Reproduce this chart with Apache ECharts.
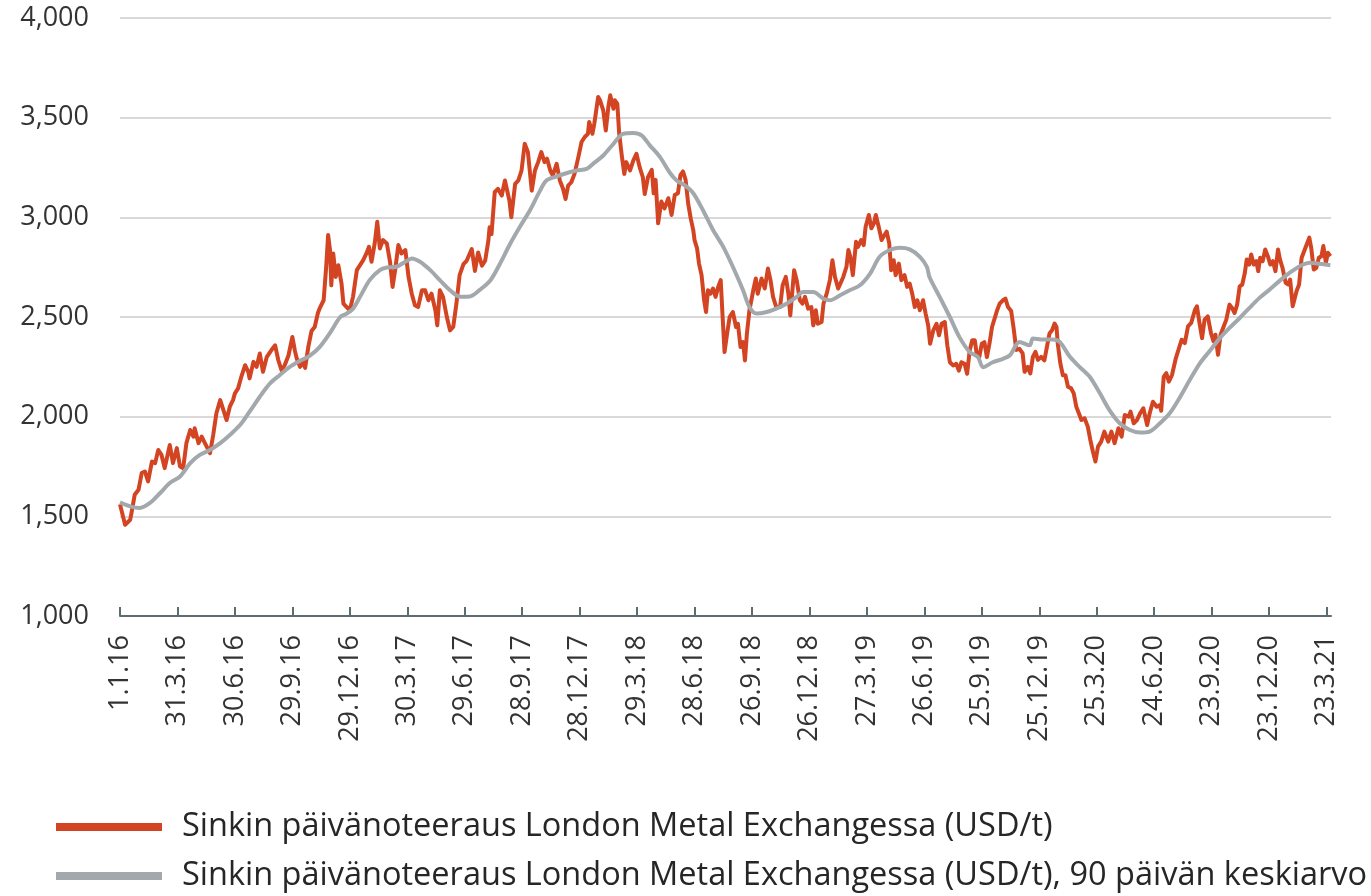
<!DOCTYPE html>
<html>
<head>
<meta charset="utf-8">
<title>Sinkin päivänoteeraus</title>
<script src="https://cdn.jsdelivr.net/npm/echarts@6.0.0/dist/echarts.min.js"></script>
<style>
  html, body { margin: 0; padding: 0; background: #fff; }
  #chart-container { width: 1371px; height: 896px; }
</style>
</head>
<body>
<div id="chart-container"></div>
<script>
// x = days since 1.1.2016, y = USD/t
const tickLabels = ['1.1.16', '31.3.16', '30.6.16', '29.9.16', '29.12.16', '30.3.17', '29.6.17',
  '28.9.17', '28.12.17', '29.3.18', '28.6.18', '26.9.18', '26.12.18', '27.3.19', '26.6.19',
  '25.9.19', '25.12.19', '25.3.20', '24.6.20', '23.9.20', '23.12.20', '23.3.21'];
const tickDays = [0, 90, 180, 270, 360, 450, 540, 630, 720, 810, 900, 990, 1080, 1170, 1260,
  1350, 1440, 1530, 1620, 1710, 1800, 1890];

const seriesNames = [
  'Sinkin päivänoteeraus London Metal Exchangessa (USD/t)',
  'Sinkin päivänoteeraus London Metal Exchangessa (USD/t), 90 päivän keskiarvo'
];

const dailyPrice = [
  [0,1560],[8,1458],[16,1483],[18,1517],[23,1608],[29,1633],[34,1717],[39,1725],[44,1675],[50,1775],
  [55,1767],[60,1833],[65,1808],[70,1742],[78,1858],[83,1767],[89,1842],[94,1750],[99,1742],[104,1867],
  [110,1933],[115,1900],[117,1942],[123,1867],[128,1900],[133,1867],[141,1817],[146,1908],[151,2017],[157,2083],
  [162,2033],[167,1983],[172,2050],[177,2083],[180,2117],[185,2142],[190,2200],[196,2258],[201,2225],[203,2192],
  [209,2275],[214,2250],[219,2317],[224,2225],[230,2300],[237,2333],[243,2358],[248,2283],[253,2233],[258,2258],
  [264,2308],[270,2400],[274,2330],[277,2290],[282,2250],[287,2270],[290,2245],[295,2350],[300,2430],[305,2450],
  [310,2520],[313,2545],[319,2584],[323,2752],[326,2911],[329,2836],[331,2659],[334,2819],[338,2701],[342,2760],
  [347,2668],[350,2567],[355,2550],[360,2534],[365,2601],[371,2735],[376,2760],[381,2785],[386,2819],[390,2852],
  [394,2777],[399,2869],[403,2978],[407,2844],[412,2886],[418,2869],[423,2777],[427,2651],[431,2735],[436,2861],
  [441,2819],[447,2836],[452,2701],[457,2617],[462,2559],[467,2550],[473,2634],[478,2634],[483,2584],[488,2617],
  [494,2534],[497,2458],[501,2634],[506,2601],[512,2500],[517,2433],[522,2450],[527,2567],[532,2710],[538,2765],
  [543,2782],[551,2841],[556,2731],[561,2824],[567,2757],[572,2782],[577,2882],[579,2950],[582,2916],[587,3126],
  [592,3143],[598,3109],[603,3185],[605,3193],[610,3084],[613,3000],[619,3168],[624,3185],[629,3235],[634,3369],
  [639,3327],[645,3134],[650,3235],[655,3277],[660,3327],[665,3277],[669,3294],[674,3235],[678,3210],[684,3268],
  [689,3185],[694,3143],[698,3092],[702,3159],[707,3176],[712,3218],[718,3302],[723,3378],[728,3403],[733,3419],
  [735,3478],[740,3419],[743,3470],[749,3604],[752,3587],[757,3537],[761,3436],[765,3554],[768,3612],[773,3545],
  [775,3587],[779,3570],[782,3419],[786,3310],[790,3218],[793,3277],[799,3235],[804,3285],[809,3319],[814,3252],
  [819,3201],[822,3117],[827,3201],[833,3238],[836,3121],[839,3188],[843,2970],[848,3079],[853,3045],[859,3096],
  [864,3012],[869,3112],[874,3121],[878,3213],[882,3230],[886,3188],[890,3070],[894,2995],[898,2936],[900,2886],
  [904,2844],[907,2768],[911,2710],[915,2584],[918,2525],[921,2634],[925,2617],[929,2643],[933,2601],[937,2651],
  [941,2685],[944,2500],[947,2324],[951,2416],[955,2500],[960,2525],[965,2450],[968,2466],[972,2349],[976,2374],
  [979,2282],[982,2416],[986,2534],[992,2634],[996,2693],[999,2617],[1005,2693],[1010,2643],[1015,2743],[1019,2685],
  [1023,2601],[1028,2550],[1034,2550],[1038,2659],[1043,2701],[1047,2617],[1050,2508],[1056,2735],[1060,2685],[1065,2584],
  [1069,2567],[1073,2601],[1078,2542],[1083,2550],[1086,2458],[1090,2534],[1093,2466],[1099,2475],[1102,2567],[1107,2617],
  [1112,2685],[1116,2785],[1120,2701],[1125,2643],[1128,2634],[1133,2701],[1138,2752],[1141,2836],[1144,2802],[1148,2710],
  [1153,2877],[1156,2852],[1161,2886],[1165,2861],[1168,2953],[1173,3012],[1177,2945],[1181,2970],[1184,3012],[1189,2945],
  [1193,2886],[1196,2903],[1201,2928],[1205,2869],[1208,2735],[1212,2785],[1215,2710],[1220,2768],[1224,2685],[1229,2710],
  [1233,2651],[1237,2668],[1241,2617],[1245,2550],[1249,2584],[1253,2534],[1258,2584],[1262,2517],[1266,2458],[1269,2366],
  [1274,2433],[1279,2466],[1283,2408],[1287,2466],[1292,2475],[1296,2357],[1300,2273],[1305,2257],[1310,2265],[1314,2231],
  [1318,2273],[1323,2265],[1327,2215],[1331,2332],[1335,2383],[1339,2383],[1342,2315],[1346,2299],[1350,2366],[1354,2374],
  [1358,2299],[1362,2366],[1366,2450],[1370,2492],[1374,2534],[1378,2567],[1383,2584],[1387,2592],[1391,2550],[1396,2530],
  [1400,2440],[1404,2335],[1409,2340],[1414,2317],[1417,2225],[1422,2250],[1426,2217],[1430,2300],[1434,2325],[1438,2285],
  [1443,2300],[1448,2283],[1452,2350],[1456,2417],[1460,2433],[1464,2467],[1467,2450],[1469,2367],[1473,2267],[1477,2208],
  [1481,2208],[1485,2150],[1490,2142],[1494,2117],[1498,2050],[1502,2017],[1506,1983],[1511,1992],[1516,1950],[1520,1883],
  [1524,1825],[1528,1775],[1532,1850],[1537,1875],[1542,1925],[1548,1875],[1553,1925],[1558,1867],[1564,1942],[1569,1900],
  [1574,2008],[1580,2000],[1583,2025],[1588,1967],[1593,1983],[1598,2017],[1603,2042],[1609,1958],[1613,2017],[1618,2075],
  [1624,2050],[1629,2058],[1631,2030],[1635,2201],[1639,2218],[1643,2176],[1648,2210],[1654,2294],[1657,2285],[1663,2386],
  [1668,2369],[1673,2453],[1678,2470],[1684,2537],[1687,2554],[1691,2470],[1695,2394],[1699,2487],[1704,2503],[1709,2419],
  [1713,2378],[1716,2411],[1720,2310],[1724,2411],[1728,2445],[1733,2487],[1738,2562],[1742,2545],[1746,2520],[1750,2562],
  [1754,2654],[1758,2663],[1762,2721],[1765,2789],[1769,2763],[1772,2814],[1776,2763],[1780,2780],[1783,2730],[1786,2797],
  [1790,2780],[1794,2839],[1798,2805],[1802,2763],[1806,2780],[1810,2730],[1814,2839],[1817,2789],[1821,2747],[1826,2671],
  [1830,2663],[1833,2688],[1837,2554],[1840,2545],[1843,2629],[1847,2663],[1851,2797],[1854,2822],[1858,2856],[1863,2898],
  [1866,2847],[1870,2738],[1874,2747],[1878,2797],[1882,2805],[1885,2856],[1889,2772],[1892,2822],[1896,2805]
];

const average90 = [
  [0,1570],[16,1550],[31,1542],[47,1567],[63,1617],[78,1667],[94,1700],[110,1767],[125,1808],[141,1833],
  [157,1867],[172,1908],[188,1958],[203,2025],[219,2100],[235,2167],[250,2208],[266,2250],[282,2280],[297,2305],
  [313,2350],[329,2420],[345,2500],[355,2517],[365,2542],[376,2601],[391,2685],[407,2735],[418,2748],[433,2752],
  [447,2777],[457,2794],[470,2777],[486,2735],[501,2685],[517,2634],[533,2602],[548,2603],[564,2637],[580,2683],
  [595,2766],[611,2866],[626,2950],[642,3034],[658,3134],[668,3185],[684,3205],[699,3221],[715,3235],[731,3243],
  [741,3268],[757,3310],[773,3369],[788,3419],[804,3423],[817,3411],[830,3361],[846,3302],[861,3225],[872,3185],
  [885,3160],[898,3121],[913,3037],[929,2936],[945,2852],[960,2752],[976,2634],[986,2550],[997,2517],[1013,2525],
  [1028,2542],[1044,2567],[1060,2601],[1070,2626],[1086,2626],[1102,2592],[1112,2584],[1128,2609],[1143,2634],[1159,2659],
  [1175,2718],[1190,2802],[1206,2836],[1222,2847],[1237,2839],[1253,2802],[1264,2752],[1268,2701],[1284,2601],[1300,2500],
  [1315,2399],[1331,2324],[1344,2299],[1352,2248],[1367,2273],[1383,2290],[1394,2308],[1409,2375],[1425,2358],[1430,2392],
  [1446,2387],[1461,2387],[1472,2375],[1488,2300],[1503,2250],[1519,2200],[1535,2117],[1550,2033],[1566,1967],[1582,1933],
  [1598,1920],[1613,1925],[1629,1967],[1645,2020],[1660,2095],[1676,2185],[1691,2265],[1707,2330],[1723,2394],[1738,2445],
  [1754,2495],[1769,2545],[1785,2596],[1801,2638],[1816,2680],[1832,2721],[1848,2755],[1864,2772],[1879,2767],[1896,2760]
];

const red = '#d34423';
const grey = '#a3a8ac';
const axisColor = '#5f6b73';
const font = '"Open Sans", "Noto Sans", sans-serif';

const legendText = { fontFamily: font, fontSize: 32.5, color: '#262626', lineHeight: 40, padding: [0, 0, 0, 15] };

const option = {
    animation: false,
    grid: {
        left: 120,
        right: 40,
        top: 18,
        bottom: 280,
    },
    legend: [
        {
            data: [seriesNames[0]],
            left: 51,
            top: 802,
            icon: 'rect',
            itemWidth: 106,
            itemHeight: 8,
            textStyle: legendText,
        },
        {
            data: [seriesNames[1]],
            left: 51,
            top: 851,
            icon: 'rect',
            itemWidth: 106,
            itemHeight: 8,
            textStyle: legendText,
        }
    ],
    xAxis: {
        type: 'value',
        min: 0,
        max: 1897,
        splitLine: { show: false },
        axisLine: {
            lineStyle: { color: axisColor, width: 2 }
        },
        axisTick: {
            inside: true,
            length: 9,
            customValues: tickDays,
            lineStyle: { color: axisColor, width: 2 }
        },
        axisLabel: {
            customValues: tickDays,
            rotate: 90,
            margin: 19,
            fontFamily: font,
            fontSize: 27,
            color: '#333',
            formatter: (v) => tickLabels[tickDays.indexOf(Math.round(v))] || ''
        },
    },
    yAxis: {
        type: 'value',
        min: 1000,
        max: 4000,
        interval: 500,
        axisLine: { show: false },
        axisTick: { show: false },
        splitLine: {
            lineStyle: { color: '#d9d9d9', width: 2 }
        },
        axisLabel: {
            margin: 31,
            fontFamily: font,
            fontSize: 27,
            color: '#333',
            formatter: (v) => v.toLocaleString('en-US')
        },
    },
    series: [
        {
            name: seriesNames[0],
            type: 'line',
            showSymbol: false,
            data: dailyPrice,
            itemStyle: { color: red },
            lineStyle: { color: red, width: 4, join: 'round' },
        },
        {
            name: seriesNames[1],
            type: 'line',
            showSymbol: false,
            smooth: 0.3,
            data: average90,
            itemStyle: { color: grey },
            lineStyle: { color: grey, width: 4 },
        }
    ]
};

const myChart = echarts.init(document.getElementById('chart-container'));
myChart.setOption(option);
</script>
</body>
</html>
